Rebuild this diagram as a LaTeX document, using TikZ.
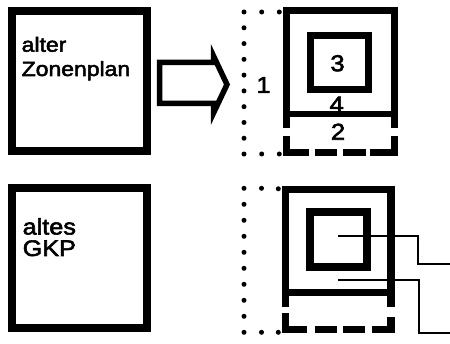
\documentclass[tikz,border=0pt]{standalone}
\usepackage{fontspec}
\newfontfamily\schrift[FakeStretch=1.12,FakeBold=2.5]{Liberation Sans}
\usepackage{tikz}

\begin{document}
\begin{tikzpicture}[x=1pt,y=-1pt]
% Stile
\tikzstyle{kasten}=[draw,line width=8pt,minimum width=135pt,minimum height=140pt,inner sep=0pt]
\tikzstyle{rahmen}=[line width=6.5pt]
\tikzstyle{rahmenB}=[line width=7.5pt]
\tikzstyle{kern}=[line width=7pt]
\tikzstyle{kernB}=[line width=8pt]
\tikzstyle{pfeil}=[line width=5.5pt,line join=miter]
\tikzstyle{leitung}=[line width=2pt]
\tikzstyle{punkt}=[fill=black,circle,inner sep=0pt,minimum size=5pt]
\tikzstyle{titel}=[anchor=base west,inner sep=0pt,font=\schrift\fontsize{20.5}{24}\selectfont]
\tikzstyle{titelB}=[titel,font=\schrift\fontsize{22.5}{26}\selectfont]
\tikzstyle{ziffer}=[inner sep=0pt,font=\schrift\fontsize{23}{26}\selectfont]
\useasboundingbox (0,0) rectangle (450,344);
% Linke Kaesten
\node[kasten] (zplan) at (79.35,81) {};
\node[kasten] (gkpalt) at (79.2,258.3) {};
\node[titel] (alter) at (21.5,51.7) {alter};
\node[titel] (zonenplan) at (21.5,76) {Zonenplan};
\node[titelB] (altes) at (22.5,234.5) {altes};
\node[titelB] (gkp) at (22.5,256) {GKP};
% Pfeil
\draw[pfeil] (159.7,62.5) -- (213.5,62.5) -- (213.5,56) -- (227,84.5)
  -- (213.5,113) -- (213.5,103.5) -- (159.7,103.5) -- cycle;
% Ziffern
\node[ziffer] (eins) at (263.5,85) {1};
\node[ziffer] (drei) at (337.5,63.3) {3};
\node[ziffer] (vier) at (336.7,104.5) {4};
\node[ziffer] (zwei) at (338,131.7) {2};
% Neuer Zonenplan
\draw[rahmen] (286.7,128.3) -- (286.7,10.5) -- (394.3,10.5) -- (394.3,128.3);
\draw[rahmen] (286.7,114) -- (394.3,114);
\draw[rahmen] (286.7,136.5) -- (286.7,152.5) -- (309,152.5);
\draw[rahmen] (315,152.5) -- (337.3,152.5);
\draw[rahmen] (343.3,152.5) -- (366,152.5);
\draw[rahmen] (370,152.5) -- (394.3,152.5) -- (394.3,136.5);
\draw[kern] (310,35.8) rectangle (368.8,90);
\foreach \i in {0,...,9}
  \node[punkt] (a\i) at (244,{12+15.78*\i}) {};
\node[punkt] (a10) at (261.7,12) {};
\node[punkt] (a11) at (279.3,12) {};
\node[punkt] (a12) at (261.7,154) {};
\node[punkt] (a13) at (279.3,154) {};
% Neues GKP
\draw[rahmenB] (285.5,307) -- (285.5,189.3) -- (390.8,189.3) -- (390.8,307);
\draw[rahmenB] (285.5,292.5) -- (390.8,292.5);
\draw[rahmenB] (285.5,313.5) -- (285.5,329.3) -- (306.7,329.3);
\draw[rahmenB] (315,329.3) -- (336.7,329.3);
\draw[rahmenB] (343.3,329.3) -- (365,329.3);
\draw[rahmenB] (371.7,329.3) -- (390.8,329.3) -- (390.8,316.7);
\draw[kernB] (310,212.5) rectangle (366.5,266.7);
\foreach \i in {0,...,9}
  \node[punkt] (b\i) at (244,{188.3+16*\i}) {};
\node[punkt] (b10) at (261.5,188.3) {};
\node[punkt] (b11) at (278.3,188.8) {};
\node[punkt] (b12) at (261.5,332.3) {};
\node[punkt] (b13) at (278.3,332.3) {};
% Leitungen
\coordinate (innen) at (338.3,236);
\coordinate (knickA) at (418,250);
\coordinate (endeA) at (450,264.5);
\coordinate (ring) at (338.3,280);
\coordinate (knickB) at (419,300);
\coordinate (endeB) at (450,333);
\draw[leitung] (innen) -| (knickA) |- (endeA);
\draw[leitung] (ring) -| (knickB) |- (endeB);
\end{tikzpicture}
\end{document}
